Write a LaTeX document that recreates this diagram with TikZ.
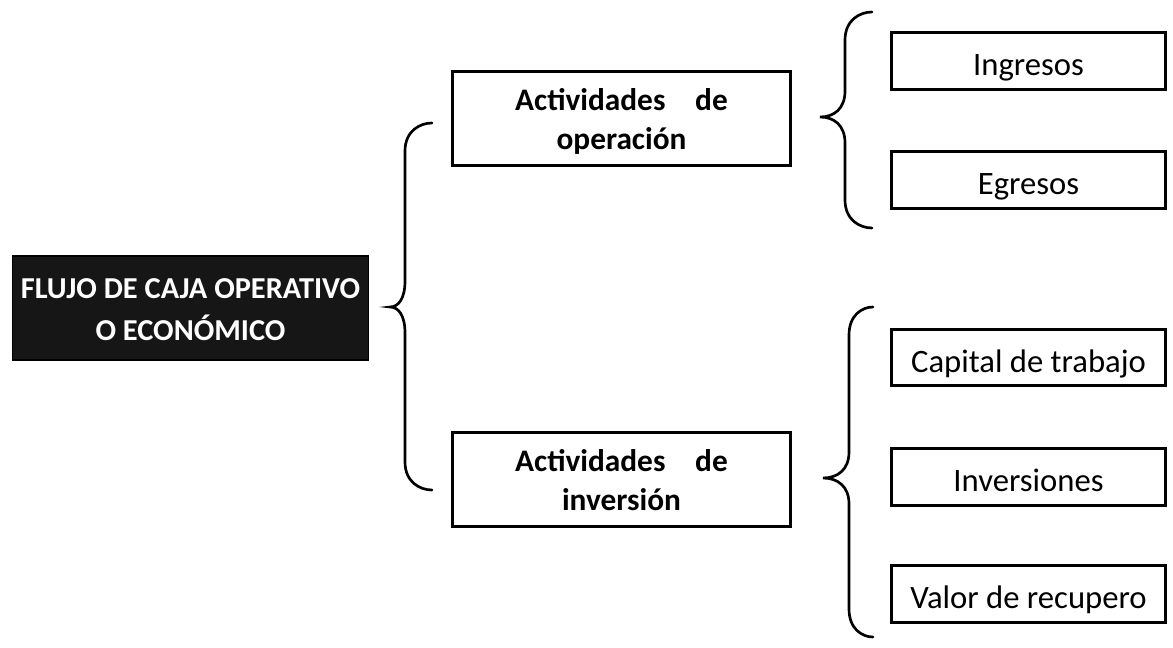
\documentclass[tikz,border=0pt]{standalone}
\usepackage{fontspec}
\setmainfont{Carlito}
\definecolor{rootfill}{RGB}{22,22,22}

% curly brace opening to the right: end x, stem x, tip x, top y, tip y, bottom y
\newcommand{\curlybrace}[6]{%
  \draw[bracket]
    (#1,#4) .. controls ({#2+0.55*(#1-#2)},#4) and (#2,{#4+8}) .. (#2,{#4+28})
    -- (#2,{#5-26})
    .. controls (#2,{#5-8}) and ({#3+0.55*(#2-#3)},#5) .. (#3,#5)
    .. controls ({#3+0.55*(#2-#3)},#5) and (#2,{#5+8}) .. (#2,{#5+26})
    -- (#2,{#6-28})
    .. controls (#2,{#6-8}) and ({#2+0.55*(#1-#2)},#6) .. (#1,#6);}

% centred multi-line text, lowered without changing its reported size
\newcommand{\loweredlines}[2]{%
  \raisebox{-#1}[\height][\depth]{\begin{tabular}{@{}c@{}}#2\end{tabular}}}

\begin{document}
\begin{tikzpicture}[x=0.75pt,y=-0.75pt,
  box/.style={draw=black, line width=2.4pt, rectangle, inner sep=0pt,
    align=center},
  actbox/.style={box, minimum width=253.5pt, minimum height=70.5pt,
    font=\bfseries\fontsize{23.5}{29.5}\selectfont},
  itembox/.style={box, minimum width=205.5pt, minimum height=42.5pt,
    font=\fontsize{24.5}{29}\selectfont, text height=22pt, text depth=0.2pt},
  rootbox/.style={draw=black, line width=1pt, fill=rootfill, text=white,
    inner sep=0pt, align=center, minimum width=267pt, minimum height=78pt,
    font=\bfseries\fontsize{22.8}{31.5}\selectfont},
  bracket/.style={draw=black, line width=2pt, line cap=round}
]
\useasboundingbox (0,0) rectangle (1173,648);

% root
\node[rootbox] (root) at (190.5,308)
  {\loweredlines{2.2pt}{FLUJO DE CAJA OPERATIVO\\O ECONÓMICO}};

% activities
\node[actbox] (oper) at (621.5,118.5)
  {\loweredlines{2.5pt}{Actividades\hspace{0.95em}de\\operación}};
\node[actbox] (inv) at (621.5,479.5)
  {\loweredlines{2.5pt}{Actividades\hspace{0.95em}de\\inversión}};

% operating items
\node[itembox] (ing) at (1028.5,61) {Ingresos};
\node[itembox] (egr) at (1028.5,180) {Egresos};

% investment items
\node[itembox] (cap) at (1028.5,357.5) {Capital de trabajo};
\node[itembox] (invs) at (1028.5,477) {Inversiones};
\node[itembox] (val) at (1028.5,594) {Valor de recupero};

% braces
\curlybrace{432}{405}{390}{123}{307}{490}
\curlybrace{872}{845}{820}{12}{117}{228}
\curlybrace{873}{849}{823}{307}{478}{637}
\end{tikzpicture}
\end{document}
